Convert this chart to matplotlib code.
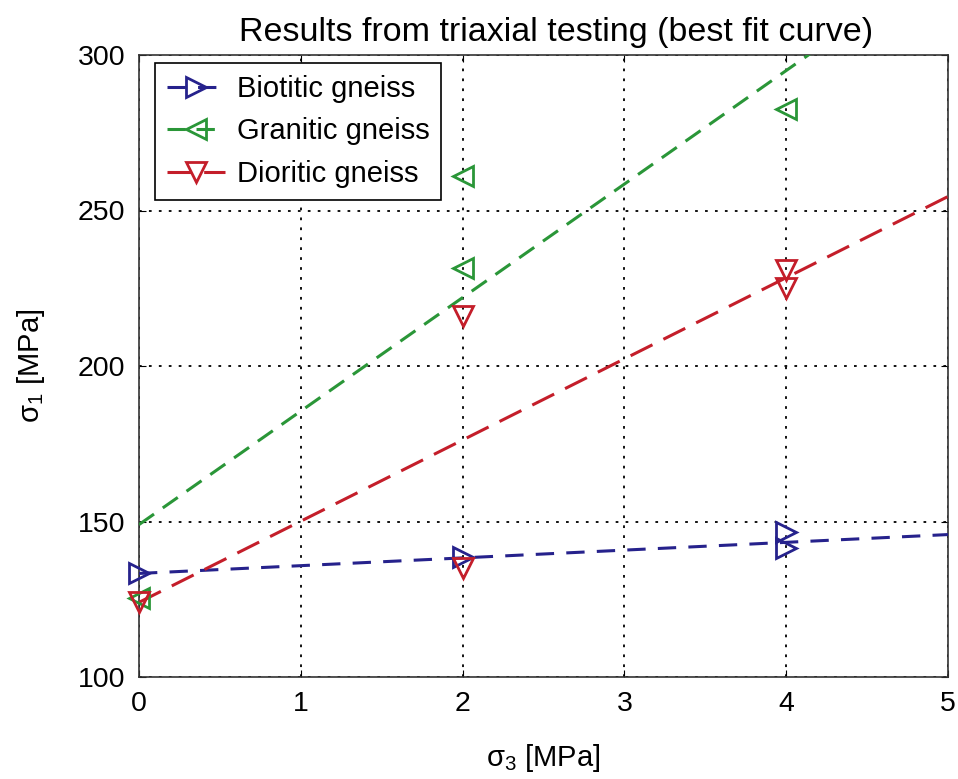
import matplotlib
matplotlib.use("Agg")
import matplotlib.pyplot as plt
import numpy as np

plt.rcParams["font.family"] = ["Liberation Sans", "DejaVu Sans"]
plt.rcParams["mathtext.fontset"] = "custom"
plt.rcParams["mathtext.rm"] = "Liberation Sans"
plt.rcParams["mathtext.it"] = "Liberation Sans"

# measured points (sigma3, sigma1)
bio_x = [0, 2, 4, 4]
bio_y = [133.5, 138.5, 146.5, 141.5]
gra_x = [0, 2, 2, 4]
gra_y = [125.5, 261, 231.5, 282.5]
dio_x = [0, 2, 2, 4, 4]
dio_y = [124, 216, 135, 231, 225]

# best fit lines: intercept, slope
bio_fit = (133.3, 2.5)
gra_fit = (149.0, 36.5)
dio_fit = (124.0, 26.1)

names = ["Biotitic gneiss", "Granitic gneiss", "Dioritic gneiss"]
colors = ["#26228c", "#2a9638", "#c41e2a"]
markers = [">", "<", "v"]
dashes = [(0, (6, 4)), (0, (6, 3.5)), (0, (8, 4))]

fig = plt.figure(figsize=(9.58, 7.79), dpi=100)
ax = fig.add_axes([139/958, 1 - 677/779, (948-139)/958, (677-55)/779])

xs = np.linspace(0, 5, 50)
data = [(bio_x, bio_y, bio_fit), (gra_x, gra_y, gra_fit), (dio_x, dio_y, dio_fit)]
for (px, py, fit), name, c, m, d in zip(data, names, colors, markers, dashes):
    ax.plot(xs, fit[0] + fit[1] * xs, ls=d, color=c, lw=2.2, zorder=3)
    ax.plot(px, py, ls="none", marker=m, ms=14, mfc="none", mec=c, mew=2,
            zorder=4, clip_on=False)
    # legend handle
    ax.plot([], [], ls=d, color=c, lw=2.2, marker=m, ms=14, mfc="none",
            mec=c, mew=2, label=name)

ax.set_xlim(0, 5)
ax.set_ylim(100, 300)
ax.set_xticks([0, 1, 2, 3, 4, 5])
ax.set_yticks([100, 150, 200, 250, 300])
ax.grid(True, color="black", ls=(0, (1.5, 4)), lw=1.3)
ax.tick_params(direction="in", top=True, right=True, labelsize=20.5, length=5, pad=10)
for s in ax.spines.values():
    s.set_linewidth(1.2)
    s.set_color("#333333")

ax.set_xlabel(r"σ$_3$ [MPa]", fontsize=21, labelpad=18)
ax.set_ylabel(r"σ$_1$ [MPa]", fontsize=21, labelpad=22)
ax.set_title("Results from triaxial testing (best fit curve)", fontsize=24.5, pad=10, x=0.515)

leg = ax.legend(loc="upper left", bbox_to_anchor=(0.02, 0.987), borderaxespad=0,
                fontsize=21, frameon=True, fancybox=False,
                edgecolor="black", framealpha=1,
                handlelength=2.0, handletextpad=0.4, labelspacing=0.5, borderpad=0.4)
leg.get_frame().set_linewidth(1.2)

fig.savefig("out.png", dpi=100)
